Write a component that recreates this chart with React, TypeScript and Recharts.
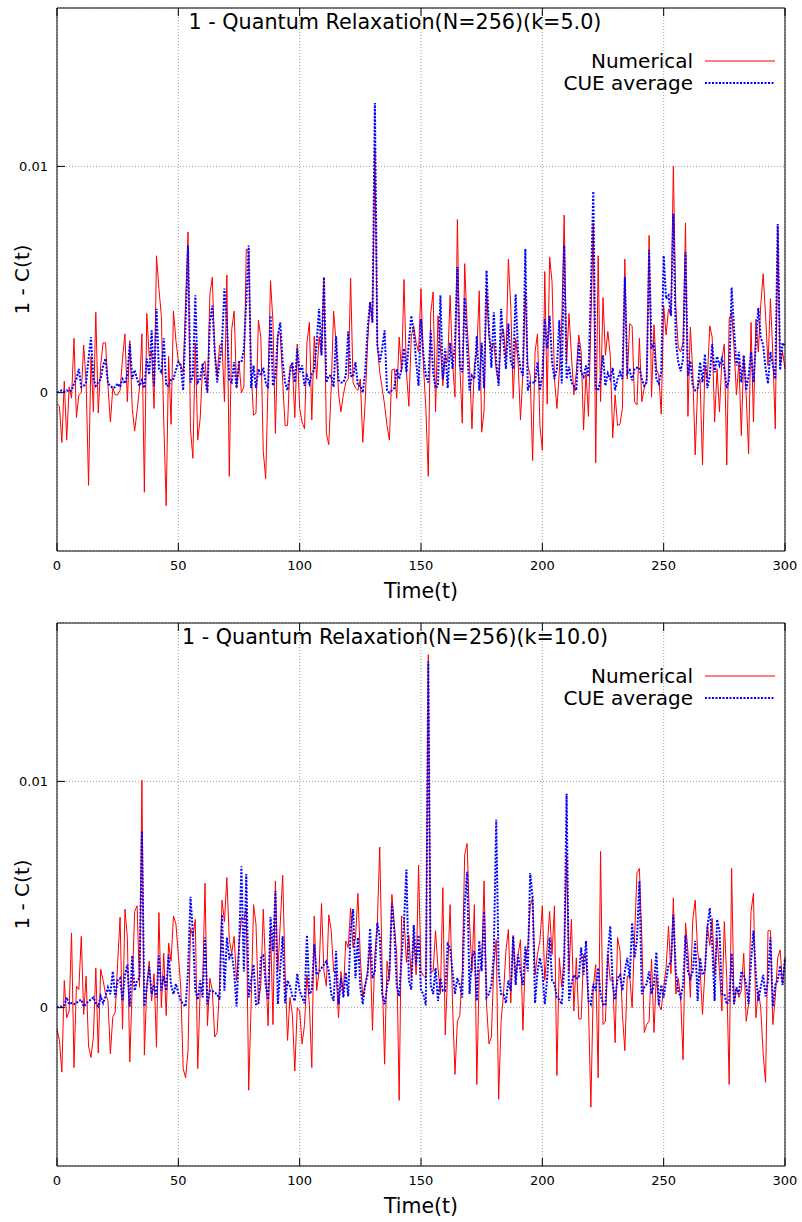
import React from 'react';
import { LineChart, Line, XAxis, YAxis, CartesianGrid, Legend } from 'recharts';

const FONT = '"DejaVu Sans", "Liberation Sans", sans-serif';

const timeTicks = [0, 50, 100, 150, 200, 250, 300];
const valueTicks = [0, 0.01];
const legendOrder = ['numerical', 'cue'];

// all values below are in units of 1e-3, one per time step t = 0..300
const numericalK5 = [
  -0.5, -0.6, -2.2, 0.5, -2.1, 0.25, -0.25, 2.4, -1.1, -0.1,
  0, 2.1, 0.5, -4.1, 1.6, -0.85, 3.55, -0.9, 1.2, 2.2,
  2.2, 0.3, -1.3, 0.2, -0.1, -0.1, 0.1, 1.5, 2.6, -0.4,
  2.3, -0.7, -1.7, -0.8, 0.2, 2.6, -4.4, 3.5, 1.6, 1.8,
  -0.7, 6.05, 4.6, 3.4, -1.3, -5.0, 1.6, -1.4, 3.6, 2.3,
  1.4, 1.2, 0.9, 4.0, 7.1, -1.6, -2.9, 2.2, -2.1, -1.15,
  1.2, 1.4, 0, 4.35, 5.1, 1.8, 0.75, 2.1, 2.2, -0.4,
  5.2, -3.7, 2.8, 3.6, 0.2, 1.35, 0, 0.25, 6.35, 6.2,
  0.9, -1.0, -0.9, 3.2, 2.45, -2.6, -3.8, 0.5, 4.95, 3.1,
  -1.8, 2.6, 2.6, 0.5, -1.45, -1.45, 1.2, 1.2, -1.1, 2.15,
  -0.7, -1.3, -1.6, 2.2, 3.1, -1.2, 2.5, 0.6, 2.45, 1.65,
  5.1, -1.8, -2.3, 0.2, 3.6, 2.2, 0, -0.85, -0.1, 0.45,
  0.6, 5.05, 0.45, 0.2, 0.1, 0.6, -2.2, -0.4, 2.2, 4.0,
  3.1, 10.8, 2.1, 0.9, 0.2, -0.55, -1.45, -2.1, 1.0, 1.05,
  -0.25, 2.45, 0.9, 5.0, 0.9, -0.6, 2.5, 2.95, 2.2, 1.8,
  4.6, 1.2, -0.7, -3.7, 3.5, 4.45, -0.85, 3.4, 2.0, 0.3,
  1.6, 1.35, 4.3, 1.35, -0.2, 7.65, 1.2, -1.35, 5.7, 3.0,
  1.2, -1.6, 1.2, 1.8, 4.5, -1.75, -0.8, 4.6, 2.5, 1.9,
  2.2, 1.0, 0.45, 2.5, 2.8, 1.5, 5.9, 3.8, -0.25, 2.4,
  1.35, -1.2, 0.9, 4.45, 1.2, 0.75, -3.0, 1.8, 2.6, -1.45,
  -2.55, 5.35, -0.5, 6.0, 4.9, 0.6, -0.7, 0.9, 3.1, 7.85,
  1.35, 3.5, 1.65, -0.1, 0.9, 2.55, 1.8, -1.65, 0.9, -1.05,
  3.0, 7.5, -3.1, 6.05, -0.4, 4.2, 1.65, 2.7, 1.65, -2.0,
  -0.1, -1.45, -1.4, -0.7, 5.9, 0.6, 3.05, 2.95, -0.4, -0.55,
  2.4, -0.4, 0.2, 0.6, 6.95, -0.2, 3.0, 1.05, 0.75, -0.95,
  3.85, 2.55, 3.7, 3.4, 10.0, 3.8, 2.0, 1.8, 2.2, 7.5,
  -1.05, 2.9, 0.9, -2.75, 0.2, 0.6, -3.2, 1.2, 0.6, 2.95,
  2.45, -1.3, 1.05, -0.85, 1.5, 2.15, -3.2, 3.25, 3.55, 2.0,
  -0.1, 1.35, -1.9, 1.65, -0.1, -2.7, 3.1, -1.3, 3.25, 1.8,
  3.85, 5.25, 3.4, 1.2, 4.15, 1.65, -1.6, 7.3, 1.2, 1.8,
  1.05,
];

const cueK5 = [
  0, 0.05, 0.1, 0.05, 0.1, 0.05, 0.1, 0.4, 0.6, 1.05,
  0.25, 0.3, 0.45, 1.5, 2.45, 0.6, 0.3, 0.45, 0.6, 1.2,
  1.5, 0.4, 0.3, 0.2, 0.25, 0.4, 0.25, 0.6, 0.4, 0.8,
  2.15, 0.6, 1.0, 0.6, 0.3, 0.55, 0.2, 1.5, 0.8, 2.75,
  0.3, 3.7, 1.05, 0.9, 2.4, 0.3, 0.3, 0.6, 0.6, 1.0,
  1.35, 1.2, 0.1, 3.1, 6.5, 0.45, 0.75, 4.3, 0.45, 0.6,
  1.3, 0.6, 0, 3.1, 3.85, 1.8, 0.45, 1.35, 2.2, 4.6,
  3.1, 0.55, 0.45, 1.35, 0.2, 1.35, 1.35, 1.9, 4.0, 6.5,
  0.2, 1.2, 0.2, 1.05, 0.75, 1.1, 0.45, 0.2, 3.4, 0.3,
  0.75, 2.5, 3.1, 1.35, 0.45, 0.1, 0.9, 1.35, 0.45, 1.95,
  0.9, 1.2, 0.3, 0.75, 0.4, 0.85, 1.0, 2.2, 3.7, 1.65,
  5.1, 0.45, 0.75, 0.75, 0.25, 2.5, 0.55, 0.45, 0.45, 0.75,
  2.7, 0.75, 0.7, 1.35, 0.3, 0.3, 0, 0.9, 2.8, 4.0,
  3.1, 12.8, 2.1, 1.35, 1.95, 2.75, 0.1, 0, 0.1, 0.2,
  1.05, 0.6, 1.05, 1.95, 0.9, 2.2, 3.4, 2.7, 1.35, 0.3,
  3.25, 1.65, 0.75, 0.45, 2.75, 0.9, 0.2, 0.3, 4.3, 0.6,
  1.95, 0.2, 2.2, 1.05, 2.2, 5.55, 1.2, 0.9, 4.2, 1.95,
  0.1, 0.75, 0.6, 2.5, 0.1, 2.2, 0.2, 5.4, 2.8, 1.1,
  3.55, 1.35, 0.3, 3.7, 2.2, 1.05, 3.05, 1.35, 1.05, 4.35,
  1.8, 1.05, 0.75, 6.35, 0.1, 0.45, 0.45, 0.45, 1.35, 0.1,
  0.75, 3.25, 1.95, 3.4, 1.35, 0.6, 1.05, 3.2, 0.4, 6.5,
  0.6, 1.15, 0.45, 0.3, 0.1, 2.2, 0.9, 0.7, 1.2, 0.7,
  4.6, 8.9, 0.2, 0.1, 0.6, 1.65, 0.3, 0.85, 0.6, 1.1,
  0.1, 0.6, 0.9, 0.6, 5.1, 0.85, 1.0, 0.55, 1.05, 1.1,
  1.1, 0.6, 0.3, 0.45, 6.3, 1.95, 2.2, 0.6, 0.4, 0.9,
  6.05, 4.15, 4.3, 3.4, 7.9, 2.3, 1.35, 0.95, 1.5, 6.2,
  0.75, 1.4, 0.3, 0.1, 0.2, 1.35, 0.45, 1.7, 0.2, 0.75,
  2.15, 0.9, 1.6, 1.2, 1.5, 1.05, 0.2, 0.6, 4.65, 2.8,
  1.2, 1.8, 0.45, 1.65, 0.1, 0.75, 1.8, 0.45, 2.2, 3.75,
  2.45, 2.1, 1.05, 0.4, 1.8, 1.2, 0.6, 7.45, 1.0, 2.2,
  2.05,
];

const numericalK10 = [
  -0.95, -1.45, -2.85, 1.2, -0.45, -0.15, 3.3, -2.65, 0.95, 0.8,
  3.15, -0.3, 1.4, -1.7, -2.2, -1.3, 1.75, -2.0, 1.7, 1.2,
  0.6, 0.3, -2.05, -0.4, -0.2, 2.0, 4.0, -0.95, 4.35, 3.1,
  -2.4, 0.9, 4.25, 4.5, 0.9, 10.05, -2.1, 0.9, 2.05, 0.3,
  1.5, -1.75, 4.2, 0, 2.4, -0.35, 2.85, 2.05, 4.05, 3.7,
  2.35, 0.9, -2.7, -3.1, -1.9, 3.5, 3.15, 3.9, -2.7, 0.75,
  0.9, 5.5, -0.8, 1.3, 0.75, -1.3, -1.1, 1.0, 4.75, 3.8,
  5.75, 3.0, 2.4, 3.15, 1.2, 2.8, 4.0, 3.9, 4.4, -3.65,
  0.15, 4.55, 3.7, 0.15, 1.0, 4.35, 1.6, -0.8, 3.5, -0.75,
  5.6, 1.6, 3.7, 5.85, 1.6, -1.45, 0.45, -0.3, -2.8, 0,
  -0.15, -1.6, -0.75, 1.45, 0.15, -2.65, 4.05, 0.75, 1.6, 4.6,
  1.6, 0.95, 4.1, 3.4, 1.6, 1.6, -0.45, 1.6, 0.6, 2.95,
  2.65, 4.4, 2.65, 3.05, 5.05, 2.2, 0.45, 1.0, 1.6, 2.8,
  -1.0, 2.35, 3.7, 7.1, 1.6, -2.5, 2.05, 1.2, 5.0, 3.7,
  2.35, -4.1, 4.05, 3.95, 2.0, 3.2, 1.3, 3.2, 1.45, 6.3,
  1.6, 1.4, 1.3, 15.6, 1.6, 1.6, 3.4, 1.75, 0.6, 5.3,
  -1.2, 1.6, 4.55, 0.15, -2.95, -0.6, -0.35, 1.6, 6.75, 7.25,
  3.8, 1.6, 4.55, -3.4, 1.6, 1.9, 5.6, 0.15, -1.6, -1.3,
  1.9, 3.0, -4.05, -0.6, 0.6, 2.5, 3.45, 0.2, 3.2, 1.2,
  2.35, 3.0, -1.0, 2.2, 2.65, 4.5, 4.85, 1.45, 2.35, 2.95,
  4.5, 1.2, 2.65, 4.25, 2.35, 4.5, -3.0, 2.2, 0.9, 2.35,
  6.75, 1.6, 3.9, -0.15, 2.2, -0.5, -0.5, 2.35, 2.2, 0.15,
  -4.4, 0.9, 1.9, -3.1, 6.9, -0.75, -0.6, 2.35, 1.2, 1.3,
  -1.55, 3.1, 2.5, -0.3, -1.9, 1.4, 1.4, 0, 3.1, 5.95,
  6.15, 3.1, -1.1, -0.75, -0.6, 2.15, -1.1, 1.45, 0.1, -0.1,
  0.9, 1.75, 3.6, 1.5, 4.85, 0.6, 1.3, 0.45, -2.3, 3.75,
  2.5, 0.45, 3.9, 4.75, 2.5, 1.75, -0.3, 1.6, 3.65, 2.75,
  3.95, 1.45, 3.1, 1.6, -0.15, 3.8, 1.3, -3.4, 6.15, 0.15,
  0.9, 0.45, 0.75, 2.4, -0.6, 0.15, 4.25, 5.05, -0.45, 0.75,
  0, -2.05, -3.3, 3.4, 3.4, -0.75, 0.45, 2.2, 2.55, 1.0,
  2.2,
];

const cueK10 = [
  0, 0.05, 0.05, 0.1, 0.45, 0.15, 0.2, 0.15, 0.2, 0.3,
  0.35, 0.05, 0.15, 0.3, 0.35, 0.45, 0.2, 0.05, 0.5, 0.2,
  0.5, 0.9, 0.6, 1.6, 0.45, 1.2, 1.3, 0.3, 1.45, 1.9,
  0.05, 2.3, 0.75, 1.2, 1.3, 7.8, 0.05, 0.9, 1.8, 0.6,
  1.0, 0.45, 2.3, 0.75, 1.4, 0.75, 2.35, 1.0, 0.6, 1.05,
  0.65, 0.3, 0.15, 0.05, 1.6, 4.9, 3.3, 0.75, 0.35, 1.2,
  0.45, 3.1, 0.15, 0.75, 0.75, 0.65, 0.6, 0.35, 4.1, 0.75,
  3.1, 2.2, 2.4, 1.6, 0.05, 2.6, 6.25, 1.6, 5.9, 0.45,
  1.2, 1.9, 0.15, 0.15, 2.2, 2.3, 1.0, 0.35, 4.0, 2.5,
  5.15, 0.15, 1.75, 3.15, 0.2, 1.2, 0.95, 0.5, 0.3, 1.5,
  0.75, 0.45, 0.2, 3.2, 0.6, 0.75, 2.8, 1.45, 1.6, 1.75,
  1.9, 2.05, 1.6, 0.6, 0.3, 2.5, 0.15, 1.3, 0.45, 1.55,
  0.5, 3.4, 4.35, 1.3, 3.1, 0.9, 0.15, 1.0, 1.45, 3.5,
  1.3, 1.6, 3.75, 3.1, 0.6, 0.15, 0.9, 1.6, 4.6, 3.35,
  0.95, 0.5, 2.2, 3.8, 6.1, 1.2, 0.8, 3.65, 1.9, 3.2,
  0.75, 0.6, 0.1, 15.3, 1.0, 0.6, 1.75, 0.3, 1.3, 0.75,
  0.75, 2.8, 2.65, 1.6, 0.6, 1.3, 1.0, 0.45, 4.55, 6.0,
  0.6, 2.2, 2.5, 0.3, 2.95, 1.6, 4.25, 0.45, 0.6, 1.0,
  2.35, 8.3, 1.6, 0.6, 0.6, 0.2, 1.2, 0.75, 3.15, 1.0,
  2.35, 1.6, 1.0, 2.7, 1.6, 5.95, 4.85, 0.2, 1.6, 2.2,
  1.6, 0.15, 1.3, 3.1, 1.2, 1.05, 0.45, 0.35, 0.15, 1.75,
  9.45, 0.3, 1.05, 1.45, 1.3, 1.3, 2.65, 1.45, 2.95, 0.3,
  0.15, 1.05, 0.75, 1.75, 0.6, 0.15, 0.1, 2.35, 3.6, 1.05,
  0.35, 1.3, 1.45, 0.75, 1.6, 2.2, 1.3, 3.75, 2.2, 3.0,
  5.6, 0.6, 0.9, 1.05, 1.6, 0.6, 1.05, 2.45, 0.1, 1.0,
  0.45, 1.2, 1.9, 2.0, 4.1, 1.6, 0.75, 0.45, 1.0, 3.2,
  1.6, 1.3, 1.6, 2.95, 0.3, 2.2, 1.45, 1.6, 3.5, 4.4,
  2.8, 0.3, 3.9, 3.4, 0.6, 0.6, 0.15, 0.3, 2.4, 0.15,
  0.9, 0.6, 1.6, 1.45, 1.0, 0.15, 2.05, 3.4, 1.45, 0.3,
  0.9, 1.45, 0.5, 1.2, 3.1, 0.05, 1.0, 1.2, 1.85, 1.0,
  2.2,
];

const buildRows = (num: number[], cue: number[]) =>
  num.map((v, t) => ({ t, numerical: v / 1000, cue: cue[t] / 1000 }));

const TICK = 8;

// gnuplot style ticks: pointing into the plot, mirrored on all four sides
const LeftTick = (p: any) => (
  <g>
    <line x1={p.x} x2={p.x + TICK} y1={p.y} y2={p.y} stroke="#000" />
    <text x={p.x - 9} y={p.y} dy={4.5} textAnchor="end" fontSize={13} fontFamily={FONT} fill="#000">
      {String(p.payload.value)}
    </text>
  </g>
);
const RightTick = (p: any) => <line x1={p.x - TICK} x2={p.x} y1={p.y} y2={p.y} stroke="#000" />;
const BottomTick = (p: any) => (
  <g>
    <line x1={p.x} x2={p.x} y1={p.y} y2={p.y - TICK} stroke="#000" />
    <text x={p.x} y={p.y + 19} textAnchor="middle" fontSize={13} fontFamily={FONT} fill="#000">
      {String(p.payload.value)}
    </text>
  </g>
);
const TopTick = (p: any) => <line x1={p.x} x2={p.x} y1={p.y} y2={p.y + TICK} stroke="#000" />;

const XTitle = (p: any) => {
  const vb = p.viewBox || { x: 57, y: 551, width: 728 };
  return (
    <text x={vb.x + vb.width / 2} y={vb.y + 47} textAnchor="middle" fontSize={20.5} fontFamily={FONT} fill="#000">
      Time(t)
    </text>
  );
};

const YTitle = (p: any) => {
  const vb = p.viewBox || { x: 0, y: 8, height: 543 };
  const cx = vb.x + 22;
  const cy = vb.y + vb.height / 2;
  return (
    <text x={cx} y={cy} dy={7} transform={`rotate(-90, ${cx}, ${cy})`} textAnchor="middle" fontSize={20} fontFamily={FONT} fill="#000">
      1 - C(t)
    </text>
  );
};

const LegendBox = (props: any) => {
  const items = [...(props.payload || [])].sort(
    (a: any, b: any) => legendOrder.indexOf(a.dataKey) - legendOrder.indexOf(b.dataKey)
  );
  return (
    <div style={{ fontFamily: FONT, fontSize: 20, lineHeight: '22px', color: '#000' }}>
      {items.map((it: any) => {
        const dotted = it.dataKey === 'cue';
        return (
          <div key={it.value} style={{ display: 'flex', justifyContent: 'flex-end', alignItems: 'center', height: 22 }}>
            <span>{it.value}</span>
            <svg width={70} height={6} style={{ marginLeft: 12, display: 'block' }}>
              <line x1={0} x2={70} y1={3} y2={3} stroke={it.color} strokeWidth={dotted ? 2 : 1} strokeDasharray={dotted ? '2 1.5' : undefined} />
            </svg>
          </div>
        );
      })}
    </div>
  );
};

function Panel({ title, rows, top }: { title: string; rows: any[]; top: number }) {
  return (
    <div style={{ position: 'absolute', left: 0, top, width: 802, height: 607 }}>
      <LineChart width={802} height={607} data={rows} margin={{ top: 0, right: 0, bottom: 0, left: 0 }}>
        <CartesianGrid stroke="#a0a0a0" strokeDasharray="1 2" />
        <XAxis
          dataKey="t"
          type="number"
          domain={[0, 300]}
          ticks={timeTicks}
          interval={0}
          height={56}
          tickSize={0}
          tickMargin={0}
          tickLine={false}
          axisLine={{ stroke: '#000' }}
          tick={BottomTick}
          label={<XTitle />}
        />
        <XAxis
          xAxisId="top"
          orientation="top"
          type="number"
          domain={[0, 300]}
          ticks={timeTicks}
          interval={0}
          height={8}
          tickSize={0}
          tickMargin={0}
          tickLine={false}
          axisLine={{ stroke: '#000' }}
          tick={TopTick}
        />
        <YAxis
          type="number"
          domain={[-0.007, 0.017]}
          ticks={valueTicks}
          interval={0}
          width={57}
          tickSize={0}
          tickMargin={0}
          tickLine={false}
          axisLine={{ stroke: '#000' }}
          tick={LeftTick}
          label={<YTitle />}
        />
        <YAxis
          yAxisId="right"
          orientation="right"
          type="number"
          domain={[-0.007, 0.017]}
          ticks={valueTicks}
          interval={0}
          width={17}
          tickSize={0}
          tickMargin={0}
          tickLine={false}
          axisLine={{ stroke: '#000' }}
          tick={RightTick}
        />
        <Legend
          layout="vertical"
          align="center"
          verticalAlign="middle"
          content={<LegendBox />}
          wrapperStyle={{ left: 480, top: 50, width: 295 }}
        />
        <Line dataKey="numerical" name="Numerical" stroke="#ff0000" strokeWidth={1} dot={false} isAnimationActive={false} />
        <Line
          dataKey="cue"
          name="CUE average"
          stroke="#0000ff"
          strokeWidth={2}
          strokeDasharray="2 1.5"
          dot={false}
          isAnimationActive={false}
        />
      </LineChart>
      <div
        style={{
          position: 'absolute',
          left: 0,
          top: 10,
          width: 790,
          textAlign: 'center',
          fontFamily: FONT,
          fontSize: 20.7,
          lineHeight: '24px',
          color: '#000',
          pointerEvents: 'none',
        }}
      >
        {title}
      </div>
    </div>
  );
}

export default function App() {
  return (
    <div style={{ position: 'absolute', left: 0, top: 0, width: 802, height: 1222, background: '#fff', overflow: 'hidden' }}>
      <Panel title="1 - Quantum Relaxation(N=256)(k=5.0)" rows={buildRows(numericalK5, cueK5)} top={0} />
      <Panel title="1 - Quantum Relaxation(N=256)(k=10.0)" rows={buildRows(numericalK10, cueK10)} top={615} />
    </div>
  );
}
